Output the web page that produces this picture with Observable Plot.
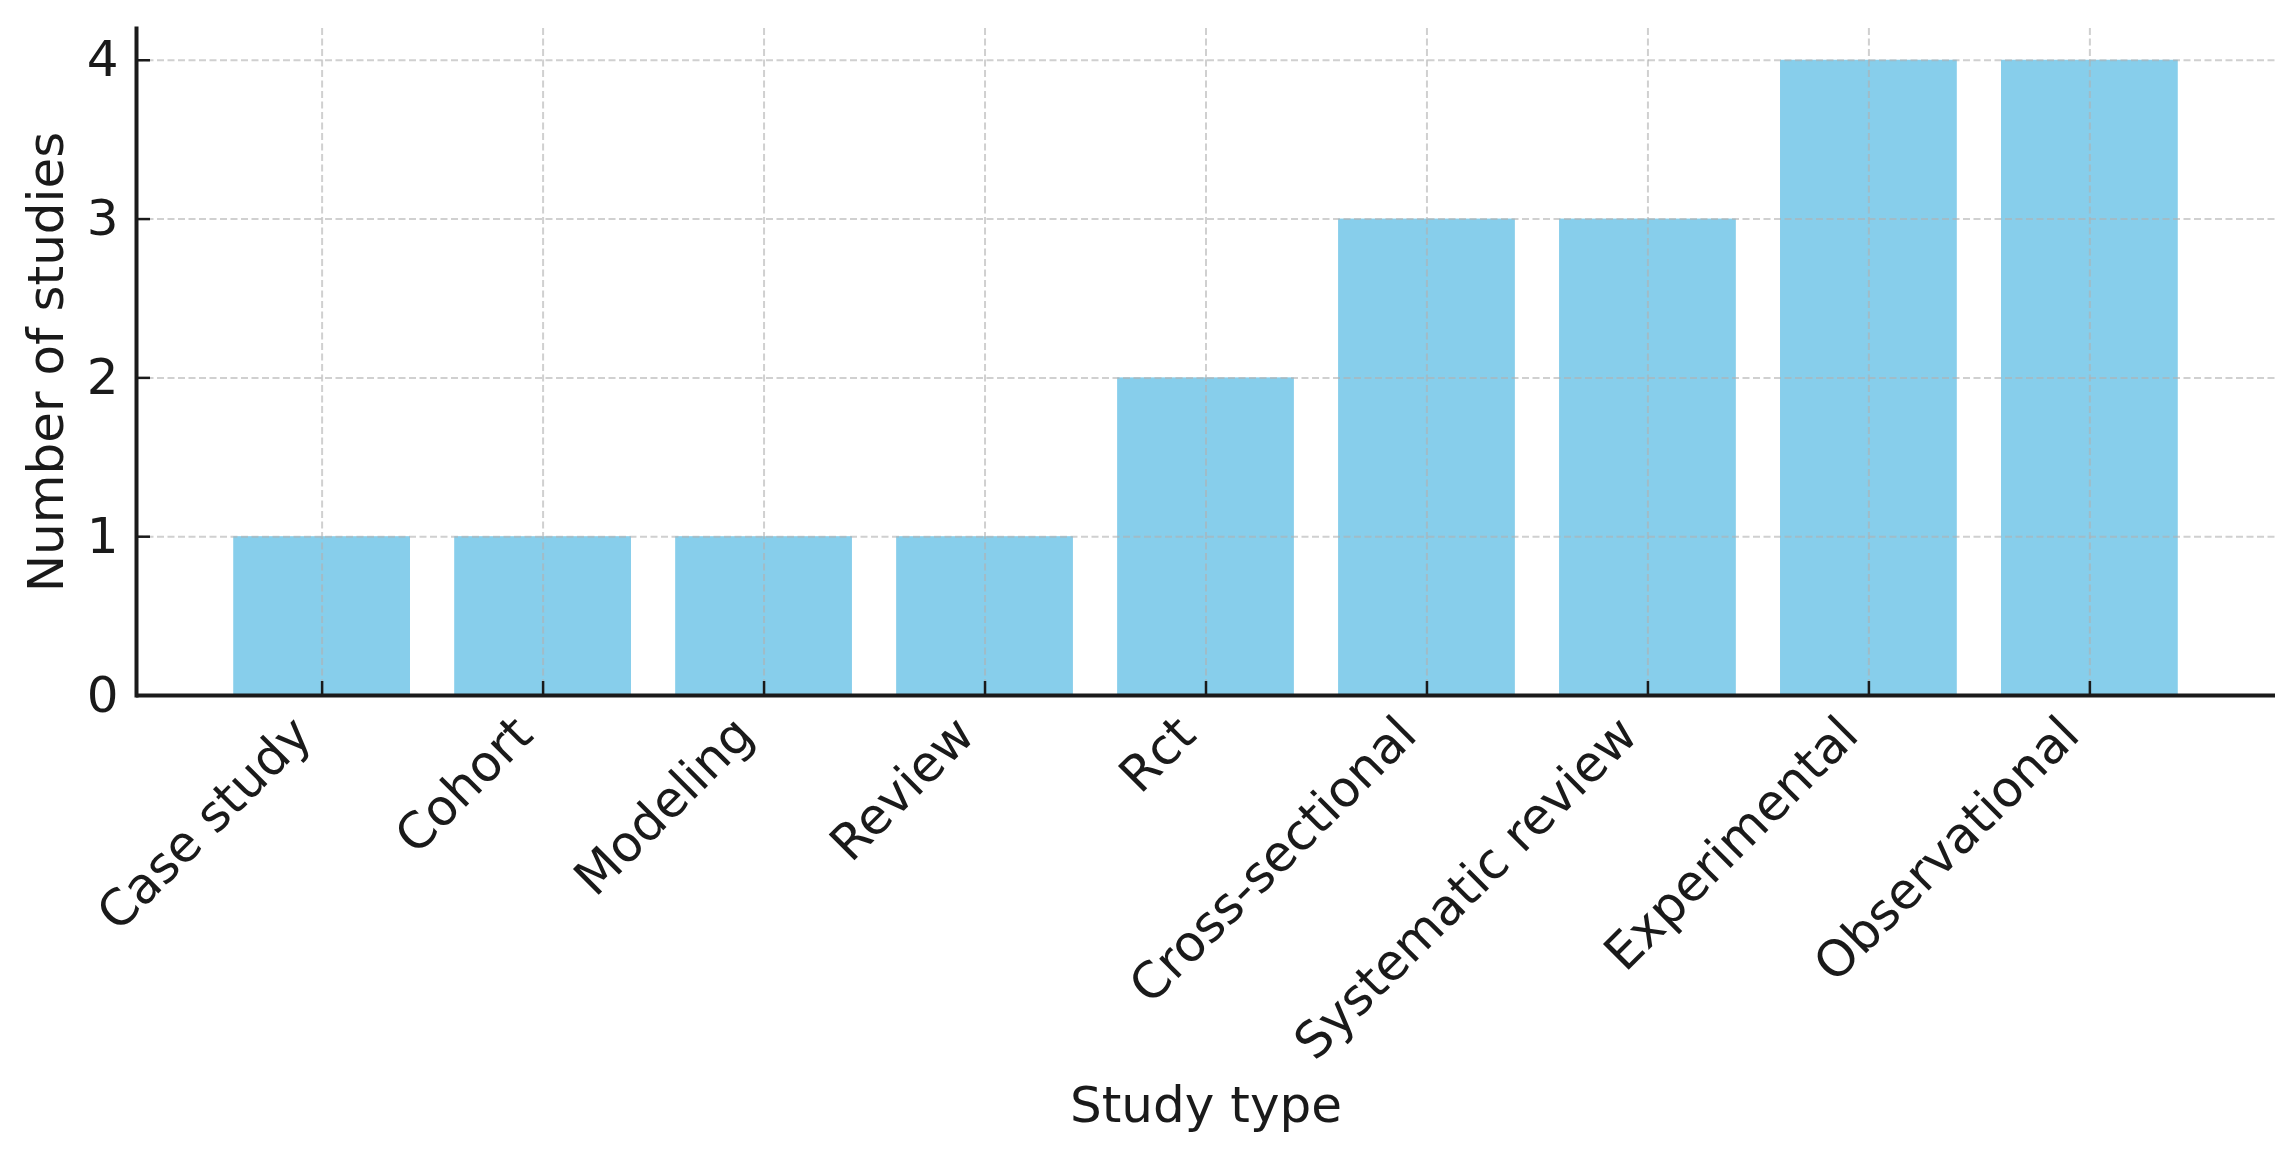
<!DOCTYPE html>
<html>
<head>
<meta charset="utf-8">
<script src="https://cdn.jsdelivr.net/npm/d3@7"></script>
<script src="https://cdn.jsdelivr.net/npm/@observablehq/plot@0.6"></script>
<style>
  html, body { margin: 0; padding: 0; background: #ffffff; }
  #chart svg { display: block; }
</style>
</head>
<body>
<div id="chart"></div>
<script>
// Data
const studyTypes = ["Case study", "Cohort", "Modeling", "Review", "Rct", "Cross-sectional", "Systematic review", "Experimental", "Observational"];
const studyCounts = [1, 1, 1, 1, 2, 3, 3, 4, 4];
const yTicks = [0, 1, 2, 3, 4];
const xTitle = "Study type";
const yTitle = "Number of studies";

const rows = studyTypes.map((t, i) => ({type: t, count: studyCounts[i]}));

const ink = "#1a1a1a";
const gridStyle = {stroke: "#b0b0b0", strokeOpacity: 0.6, strokeWidth: 2, strokeDasharray: "7,3.5"};

const chart = Plot.plot({
  width: 2295,
  height: 1153,
  marginLeft: 136,
  marginRight: 20,
  marginTop: 28,
  marginBottom: 458,
  style: {fontFamily: "'DejaVu Sans', sans-serif", fontSize: "50px", color: ink, background: "#ffffff"},
  x: {type: "band", domain: studyTypes, paddingInner: 0.2, paddingOuter: 0.44, round: false, label: null},
  y: {domain: [0, 4.2], ticks: yTicks, label: null},
  marks: [
    Plot.barY(rows, {x: "type", y: "count", fill: "#87ceeb"}),
    Plot.gridX({...gridStyle}),
    Plot.gridY(yTicks, {...gridStyle}),
    // inward tick marks
    Plot.axisX({fill: "none", tickSize: 14, dy: -14, stroke: ink, strokeWidth: 2.5, label: null}),
    Plot.axisY(yTicks, {fill: "none", tickSize: 14, dx: 14, stroke: ink, strokeWidth: 2.5, label: null}),
    // y tick labels
    Plot.axisY(yTicks, {stroke: "none", tickSize: 0, tickPadding: 18, fill: ink, fontSize: 50, tickFormat: d => String(d), label: null}),
    // rotated x tick labels
    Plot.text(rows, {x: "type", y: 0, text: "type", rotate: -45, textAnchor: "end", lineAnchor: "bottom", dx: -8, dy: 42, fill: ink, fontSize: 50}),
    // spines
    Plot.frame({anchor: "left", stroke: ink, strokeWidth: 4}),
    Plot.ruleY([0], {stroke: ink, strokeWidth: 4}),
    // axis titles
    Plot.text([xTitle], {text: d => d, frameAnchor: "bottom", dy: 426, lineAnchor: "bottom", textAnchor: "middle", fill: ink, fontSize: 50}),
    Plot.text([yTitle], {text: d => d, frameAnchor: "left", rotate: -90, dx: -74, lineAnchor: "bottom", textAnchor: "middle", fill: ink, fontSize: 50})
  ]
});
document.getElementById("chart").appendChild(chart);
</script>
</body>
</html>
